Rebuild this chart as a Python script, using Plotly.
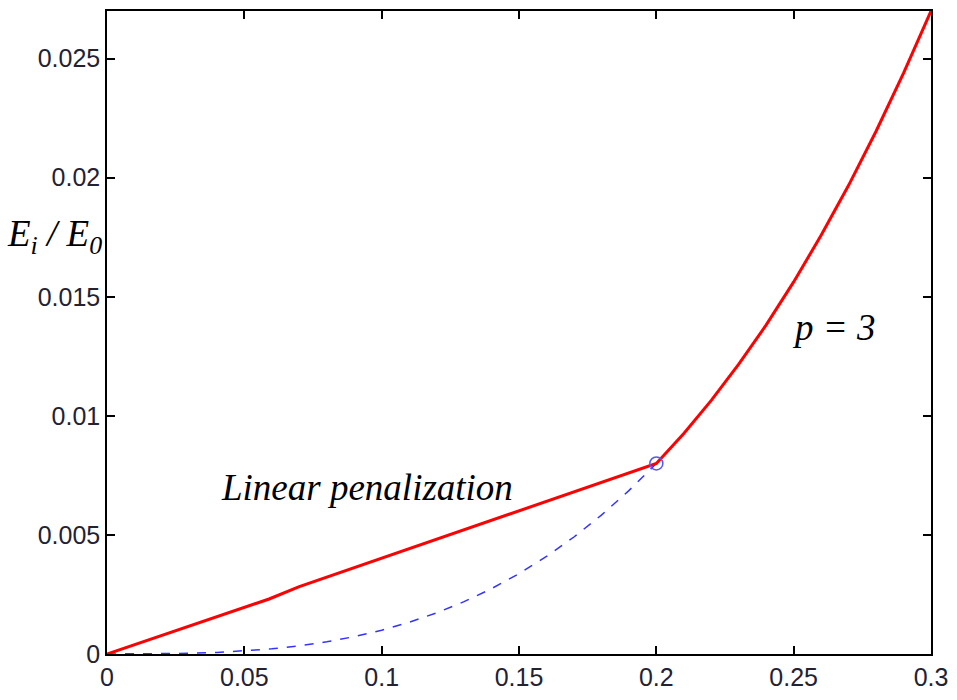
import plotly.graph_objects as go

# Linear penalization branch (red, 0 -> 0.2)
lin_x = [0.0, 0.02, 0.04, 0.059, 0.07, 0.085, 0.10, 0.12, 0.14, 0.16, 0.18, 0.20]
lin_y = [0.0, 0.00078, 0.00157, 0.00231, 0.00283, 0.00343, 0.0040, 0.0048, 0.0056, 0.0064, 0.0072, 0.0080]

# p = 3 branch (red, 0.2 -> 0.3)
p3_x = [0.20, 0.21, 0.22, 0.23, 0.24, 0.25, 0.26, 0.27, 0.28, 0.29, 0.30]
p3_y = [0.0080, 0.00926, 0.01065, 0.01217, 0.01382, 0.015625, 0.01758, 0.01968, 0.02195, 0.02439, 0.0270]

# dashed blue curve (0 -> 0.2)
dash_x = [0.0, 0.01, 0.02, 0.03, 0.04, 0.05, 0.06, 0.07, 0.08, 0.09, 0.10,
          0.11, 0.12, 0.13, 0.14, 0.15, 0.16, 0.17, 0.18, 0.19, 0.20]
dash_y = [0.0, 0.000001, 0.000008, 0.000027, 0.000064, 0.000125, 0.000216, 0.000343,
          0.000512, 0.000729, 0.001, 0.001331, 0.001728, 0.002197, 0.002744, 0.003375,
          0.004096, 0.004913, 0.005832, 0.006859, 0.008]

# switch point
sw_x = [0.2]
sw_y = [0.008]

x_ticks = [0, 0.05, 0.1, 0.15, 0.2, 0.25, 0.3]
x_labels = ["0", "0.05", "0.1", "0.15", "0.2", "0.25", "0.3"]
y_ticks = [0, 0.005, 0.01, 0.015, 0.02, 0.025]
y_labels = ["0", "0.005", "0.01", "0.015", "0.02", "0.025"]

fig = go.Figure()
fig.add_trace(go.Scatter(x=dash_x, y=dash_y, mode="lines",
                         line=dict(color="#3333ff", width=1.5, dash="dash"),
                         showlegend=False, cliponaxis=False))
fig.add_trace(go.Scatter(x=lin_x + p3_x[1:], y=lin_y + p3_y[1:], mode="lines",
                         line=dict(color="#ff0000", width=3),
                         showlegend=False, cliponaxis=False))
fig.add_trace(go.Scatter(x=sw_x, y=sw_y, mode="markers",
                         marker=dict(symbol="circle-open", size=13,
                                     color="#5555ff", line=dict(width=1.5)),
                         showlegend=False, cliponaxis=False))

tickfont = dict(family="Liberation Sans, Arial, sans-serif", size=25, color="#222233")
serif = dict(family="Liberation Serif, Times New Roman, serif", size=37, color="black")

fig.update_layout(
    width=957, height=700,
    margin=dict(l=107, r=21, t=9, b=39),
    paper_bgcolor="white", plot_bgcolor="white",
    xaxis=dict(range=[0, 0.3], tickvals=x_ticks, ticktext=x_labels,
               ticks="inside", ticklen=8, tickwidth=1.5, tickcolor="black",
               showline=True, linecolor="black", linewidth=1.5, mirror="ticks",
               showgrid=False, zeroline=False, tickfont=tickfont),
    yaxis=dict(range=[0, 0.027], tickvals=y_ticks, ticktext=y_labels,
               ticks="inside", ticklen=8, tickwidth=1.5, tickcolor="black",
               showline=True, linecolor="black", linewidth=1.5, mirror="ticks",
               showgrid=False, zeroline=False, tickfont=tickfont),
    annotations=[
        dict(text="<i>E<sub>i</sub> / E<sub>0</sub></i>", xref="paper", yref="paper",
             x=-0.064, y=0.65, showarrow=False, xanchor="center", yanchor="middle",
             font=serif),
        dict(text="<i>Linear penalization</i>", xref="x", yref="y",
             x=0.0945, y=0.0070, showarrow=False, xanchor="center", yanchor="middle",
             font=serif),
        dict(text="<i>p = 3</i>", xref="x", yref="y",
             x=0.2645, y=0.0137, showarrow=False, xanchor="center", yanchor="middle",
             font=serif),
    ],
)

fig.write_html("out.html")
